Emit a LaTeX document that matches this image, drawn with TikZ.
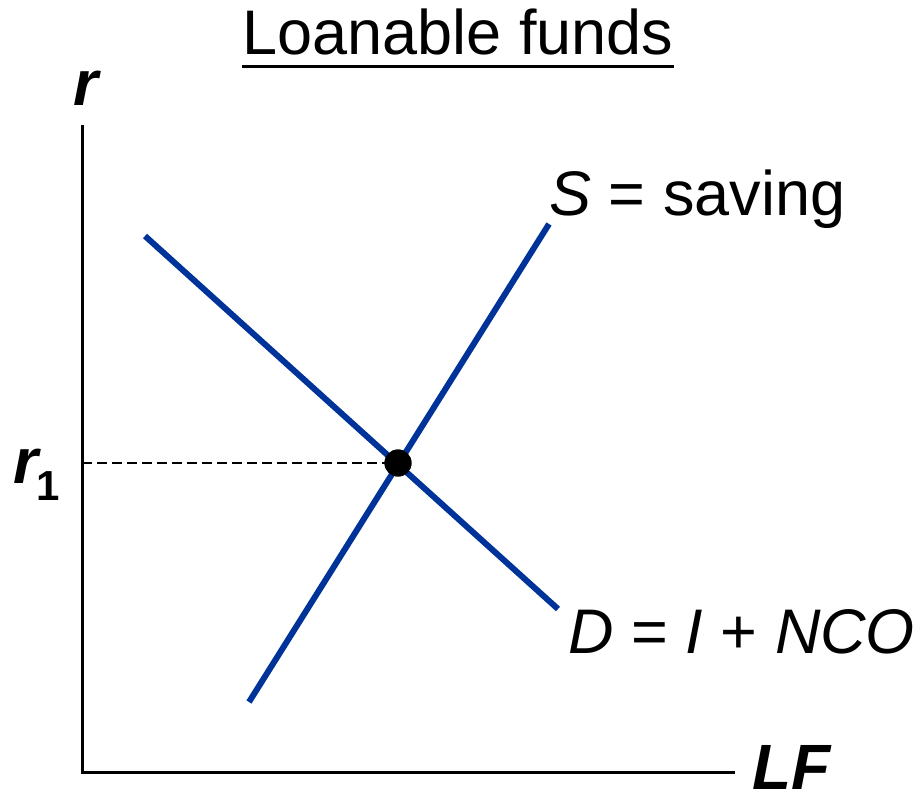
\documentclass[tikz,border=0pt]{standalone}
\usepackage{fontspec}
\setmainfont{Liberation Sans}
\usetikzlibrary{calc}
\definecolor{CurveBlue}{rgb}{0.0, 0.2, 0.6}

\begin{document}
\begin{tikzpicture}[
    x=0.5pt, y=-0.5pt,
    lbl/.style={inner sep=0pt, anchor=base west, font=\fontsize{31.5}{36}\selectfont},
    axlbl/.style={inner sep=0pt, anchor=base west, font=\fontsize{32}{38}\selectfont\bfseries\itshape},
    curve/.style={line width=3pt, CurveBlue},
    axis/.style={line width=1.5pt, black},
]
\useasboundingbox (0,0) rectangle (920,797);

% --- titulo ---
\node[lbl, anchor=base] (title) at (458,55) {Loanable funds};
\draw[line width=1.5pt] ($(title.base west)+(0,12)$) -- ($(title.base east)+(0,12)$);

% --- ejes ---
\coordinate (ytop) at (82,125);
\coordinate (orig) at (82,772);
\coordinate (xend) at (735,772);
\draw[axis] (ytop) -- (orig) -- (xend);
\node[axlbl] (rlab) at (73,105) {r};
\node[axlbl] (lflab) at (752,789) {LF};

% --- curvas ---
\coordinate (s0) at (249,702);
\coordinate (s1) at (549,224);
\coordinate (d0) at (145,236);
\coordinate (d1) at (558,609);
\draw[curve] (s0) -- (s1);
\draw[curve] (d0) -- (d1);
\node[lbl] (slab) at (549,215) {\textit{S} = saving};
\node[lbl] (dlab) at (568,653) {\textit{D} = \textit{I} + \textit{NCO}};

% --- equilibrio ---
\node[circle, fill=black, inner sep=0pt, minimum size=13.5pt] (eq) at (398,463) {};
\coordinate (r1ax) at (82,463);
\draw[line width=0.75pt, dash pattern=on 5pt off 2.5pt] (r1ax) -- (eq.center);
\fill (eq) circle (6.75pt);
\node[axlbl] (r1lab) at (13,483)
    {r\hspace{-1pt}\raisebox{-8.5pt}{\fontsize{21}{24}\selectfont\bfseries\upshape 1}};

\end{tikzpicture}
\end{document}
